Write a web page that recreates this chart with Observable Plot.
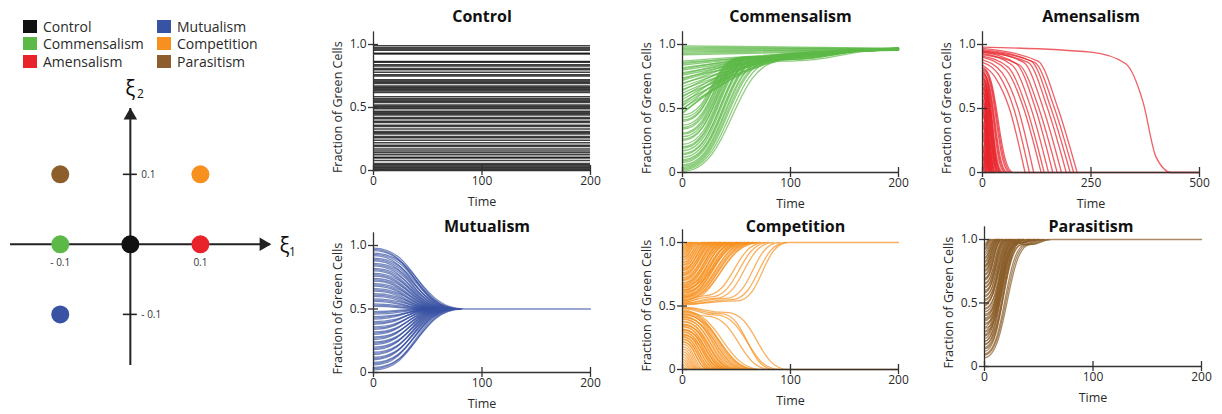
<!DOCTYPE html>
<html>
<head>
<meta charset="utf-8">
<script src="https://cdn.jsdelivr.net/npm/d3@7"></script>
<script src="https://cdn.jsdelivr.net/npm/@observablehq/plot@0.6"></script>
<style>
  body { margin: 0; background: #fff; }
  #fig { position: relative; width: 1222px; height: 414px; overflow: hidden; font-family: "Open Sans", sans-serif; }
  #fig svg { position: absolute; overflow: visible; }
  .key { position: absolute; display: flex; align-items: center; font-size: 14px; color: #2a2a2a; white-space: nowrap; }
  .key span.sw { display: inline-block; width: 14px; height: 13px; margin-right: 6px; }
</style>
</head>
<body>
<div id="fig"></div>
<script>
// ---- Interaction types, colours and their (ξ1, ξ2) coordinates ----
const interactions = ["Control", "Commensalism", "Amensalism", "Mutualism", "Competition", "Parasitism"];
const interactionColors = ["#111111", "#5cb947", "#e8232a", "#3953a4", "#f7901e", "#8b5e2b"];
const xi1 = [0, -0.1, 0.1, -0.1, 0.1, -0.1];
const xi2 = [0, 0, 0, -0.1, 0.1, 0.1];
const xiTicks = [-0.1, 0.1];
const xi1Extent = [-0.171, 0.2];
const xi2Extent = [-0.173, 0.194];

// ---- Shared axis ticks ----
const yTicks = [0, 0.5, 1];
const timeTicks = [0, 100, 200];
const longTimeTicks = [0, 250, 500];

// ---- Control: fractions stay where they start ----
const controlLevels = [0.99, 0.975, 0.965, 0.955, 0.93, 0.925, 0.865, 0.86, 0.84, 0.83, 0.81, 0.8, 0.78, 0.76, 0.75,
  0.72, 0.71, 0.7, 0.69, 0.67, 0.66, 0.65, 0.64, 0.63, 0.62, 0.585, 0.57, 0.56, 0.55, 0.54, 0.52, 0.51, 0.5, 0.49,
  0.47, 0.46, 0.45, 0.44, 0.42, 0.41, 0.39, 0.38, 0.36, 0.35, 0.33, 0.31, 0.3, 0.29, 0.27, 0.26, 0.24, 0.22, 0.2,
  0.19, 0.17, 0.155, 0.14, 0.125, 0.105, 0.1, 0.08, 0.055, 0.045, 0.035, 0.025, 0.015, 0.005];

// Each run is a list of [time, fraction] key points.
// ---- Commensalism ----
const commensalRise = [
  [[0, 0.01], [92, 0.87], [200, 0.96]], [[0, 0.02], [88, 0.88], [200, 0.965]], [[0, 0.03], [84, 0.88], [200, 0.97]],
  [[0, 0.04], [82, 0.88], [200, 0.965]], [[0, 0.05], [80, 0.89], [200, 0.96]], [[0, 0.06], [78, 0.88], [200, 0.965]],
  [[0, 0.08], [76, 0.89], [200, 0.97]], [[0, 0.09], [75, 0.89], [200, 0.96]], [[0, 0.1], [74, 0.89], [200, 0.96]],
  [[0, 0.12], [72, 0.9], [200, 0.965]], [[0, 0.14], [70, 0.89], [200, 0.97]], [[0, 0.15], [71, 0.9], [200, 0.965]],
  [[0, 0.17], [68, 0.9], [200, 0.96]], [[0, 0.19], [67, 0.9], [200, 0.965]], [[0, 0.2], [66, 0.9], [200, 0.97]],
  [[0, 0.22], [65, 0.9], [200, 0.97]], [[0, 0.25], [63, 0.9], [200, 0.965]], [[0, 0.26], [64, 0.9], [200, 0.96]],
  [[0, 0.28], [62, 0.9], [200, 0.96]], [[0, 0.3], [62, 0.9], [200, 0.965]], [[0, 0.31], [60, 0.9], [200, 0.97]],
  [[0, 0.34], [60, 0.9], [200, 0.965]], [[0, 0.35], [58, 0.9], [200, 0.97]], [[0, 0.37], [58, 0.9], [200, 0.96]],
  [[0, 0.4], [56, 0.9], [200, 0.97]], [[0, 0.41], [56, 0.9], [200, 0.965]], [[0, 0.43], [55, 0.9], [200, 0.965]],
  [[0, 0.45], [54, 0.9], [200, 0.96]]
];
const commensalBend = [
  [[0, 0.46], [80, 0.88], [200, 0.965]], [[0, 0.47], [95, 0.9], [200, 0.96]], [[0, 0.49], [75, 0.88], [200, 0.96]],
  [[0, 0.5], [100, 0.9], [200, 0.97]], [[0, 0.52], [85, 0.89], [200, 0.97]], [[0, 0.53], [70, 0.88], [200, 0.965]],
  [[0, 0.55], [105, 0.91], [200, 0.965]], [[0, 0.57], [90, 0.9], [200, 0.96]], [[0, 0.59], [78, 0.89], [200, 0.97]],
  [[0, 0.6], [110, 0.91], [200, 0.97]], [[0, 0.62], [95, 0.9], [200, 0.965]], [[0, 0.64], [82, 0.9], [200, 0.96]],
  [[0, 0.65], [115, 0.92], [200, 0.96]], [[0, 0.67], [100, 0.91], [200, 0.97]], [[0, 0.69], [88, 0.91], [200, 0.965]],
  [[0, 0.7], [120, 0.92], [200, 0.965]], [[0, 0.72], [105, 0.92], [200, 0.96]], [[0, 0.73], [92, 0.92], [200, 0.97]],
  [[0, 0.74], [125, 0.93], [200, 0.97]], [[0, 0.76], [110, 0.92], [200, 0.965]], [[0, 0.77], [96, 0.92], [200, 0.96]],
  [[0, 0.78], [130, 0.93], [200, 0.96]], [[0, 0.8], [115, 0.93], [200, 0.97]], [[0, 0.81], [100, 0.93], [200, 0.965]],
  [[0, 0.82], [135, 0.94], [200, 0.965]], [[0, 0.84], [120, 0.93], [200, 0.96]], [[0, 0.85], [105, 0.93], [200, 0.97]],
  [[0, 0.86], [140, 0.94], [200, 0.97]], [[0, 0.87], [125, 0.94], [200, 0.965]],
  [[0, 0.99], [200, 0.97]], [[0, 0.98], [200, 0.965]], [[0, 0.97], [200, 0.97]], [[0, 0.96], [200, 0.965]],
  [[0, 0.95], [200, 0.96]], [[0, 0.94], [200, 0.965]], [[0, 0.93], [200, 0.96]], [[0, 0.92], [200, 0.955]]
];

// ---- Amensalism ----
const amensalFast = [
  [[0, 0.05], [5, 0]], [[0, 0.08], [6, 0]], [[0, 0.12], [8, 0]], [[0, 0.14], [9, 0]], [[0, 0.18], [10, 0]],
  [[0, 0.2], [11, 0]], [[0, 0.22], [12, 0]], [[0, 0.27], [13, 0]], [[0, 0.3], [14, 0]], [[0, 0.32], [15, 0]],
  [[0, 0.36], [16, 0]], [[0, 0.38], [17, 0]], [[0, 0.4], [18, 0]], [[0, 0.44], [20, 0]], [[0, 0.46], [21, 0]],
  [[0, 0.48], [22, 0]], [[0, 0.52], [24, 0]], [[0, 0.54], [25, 0]], [[0, 0.56], [26, 0]], [[0, 0.6], [28, 0]],
  [[0, 0.62], [29, 0]], [[0, 0.63], [31, 0]], [[0, 0.66], [34, 0]], [[0, 0.67], [36, 0]], [[0, 0.69], [38, 0]],
  [[0, 0.71], [40, 0]], [[0, 0.72], [42, 0]], [[0, 0.73], [44, 0]], [[0, 0.74], [47, 0]], [[0, 0.76], [52, 0]],
  [[0, 0.77], [55, 0]], [[0, 0.78], [58, 0]], [[0, 0.8], [64, 0]], [[0, 0.81], [68, 0]], [[0, 0.82], [72, 0]],
  [[0, 0.7], [30, 0]], [[0, 0.75], [36, 0]], [[0, 0.79], [44, 0]], [[0, 0.65], [24, 0]], [[0, 0.58], [20, 0]],
  [[0, 0.5], [17, 0]]
];
const amensalSlow = [
  [[0, 0.84], [30, 0.74], [62, 0.5], [98, 0]], [[0, 0.86], [38, 0.76], [72, 0.5], [108, 0]],
  [[0, 0.88], [45, 0.78], [82, 0.5], [118, 0]], [[0, 0.9], [55, 0.8], [95, 0.5], [135, 0]],
  [[0, 0.91], [60, 0.82], [102, 0.5], [142, 0]], [[0, 0.93], [68, 0.84], [112, 0.5], [152, 0]],
  [[0, 0.94], [78, 0.85], [122, 0.5], [162, 0]], [[0, 0.92], [85, 0.84], [130, 0.5], [172, 0]],
  [[0, 0.95], [95, 0.86], [140, 0.5], [182, 0]], [[0, 0.94], [105, 0.86], [150, 0.5], [193, 0]],
  [[0, 0.96], [112, 0.87], [158, 0.5], [202, 0]], [[0, 0.95], [120, 0.86], [166, 0.5], [210, 0]],
  [[0, 0.97], [128, 0.87], [174, 0.5], [218, 0]],
  [[0, 0.98], [250, 0.94], [330, 0.85], [370, 0.55], [400, 0.12], [435, 0]]
];

// ---- Mutualism: every run settles at one half ----
const mutualRuns = [
  [[0, 0.98], [80, 0.5]], [[0, 0.97], [76, 0.5]], [[0, 0.96], [78, 0.5]], [[0, 0.94], [84, 0.5]],
  [[0, 0.93], [80, 0.5]], [[0, 0.92], [74, 0.5]], [[0, 0.9], [80, 0.5]], [[0, 0.89], [76, 0.5]],
  [[0, 0.88], [72, 0.5]], [[0, 0.86], [78, 0.5]], [[0, 0.85], [74, 0.5]], [[0, 0.84], [70, 0.5]],
  [[0, 0.82], [74, 0.5]], [[0, 0.81], [70, 0.5]], [[0, 0.8], [68, 0.5]], [[0, 0.78], [72, 0.5]],
  [[0, 0.77], [68, 0.5]], [[0, 0.76], [66, 0.5]], [[0, 0.74], [70, 0.5]], [[0, 0.73], [66, 0.5]],
  [[0, 0.72], [64, 0.5]], [[0, 0.7], [68, 0.5]], [[0, 0.69], [64, 0.5]], [[0, 0.68], [62, 0.5]],
  [[0, 0.66], [66, 0.5]], [[0, 0.65], [62, 0.5]], [[0, 0.64], [60, 0.5]], [[0, 0.62], [64, 0.5]],
  [[0, 0.61], [60, 0.5]], [[0, 0.6], [58, 0.5]], [[0, 0.58], [62, 0.5]], [[0, 0.57], [56, 0.5]],
  [[0, 0.56], [55, 0.5]], [[0, 0.54], [58, 0.5]], [[0, 0.53], [52, 0.5]], [[0, 0.52], [50, 0.5]],
  [[0, 0.48], [50, 0.5]], [[0, 0.47], [52, 0.5]], [[0, 0.46], [56, 0.5]], [[0, 0.44], [60, 0.5]],
  [[0, 0.43], [58, 0.5]], [[0, 0.42], [56, 0.5]], [[0, 0.4], [62, 0.5]], [[0, 0.39], [60, 0.5]],
  [[0, 0.38], [58, 0.5]], [[0, 0.36], [64, 0.5]], [[0, 0.35], [62, 0.5]], [[0, 0.34], [60, 0.5]],
  [[0, 0.32], [66, 0.5]], [[0, 0.31], [64, 0.5]], [[0, 0.3], [62, 0.5]], [[0, 0.28], [68, 0.5]],
  [[0, 0.27], [66, 0.5]], [[0, 0.26], [64, 0.5]], [[0, 0.24], [70, 0.5]], [[0, 0.23], [68, 0.5]],
  [[0, 0.22], [66, 0.5]], [[0, 0.2], [72, 0.5]], [[0, 0.19], [70, 0.5]], [[0, 0.18], [68, 0.5]],
  [[0, 0.16], [74, 0.5]], [[0, 0.15], [72, 0.5]], [[0, 0.14], [70, 0.5]], [[0, 0.12], [76, 0.5]],
  [[0, 0.11], [74, 0.5]], [[0, 0.1], [72, 0.5]], [[0, 0.08], [78, 0.5]], [[0, 0.07], [76, 0.5]],
  [[0, 0.06], [75, 0.5]], [[0, 0.04], [82, 0.5]], [[0, 0.03], [78, 0.5]], [[0, 0.02], [80, 0.5]]
];

// ---- Competition: runs above one half fix at 1, below at 0 ----
const competitionRuns = [
  [[0, 0.51], [45, 0.55], [96, 1]], [[0, 0.515], [50, 0.54], [98, 1]], [[0, 0.52], [40, 0.56], [90, 1]],
  [[0, 0.52], [30, 0.56], [84, 1]], [[0, 0.53], [25, 0.57], [80, 1]], [[0, 0.53], [70, 1]],
  [[0, 0.54], [20, 0.58], [76, 1]], [[0, 0.545], [66, 1]], [[0, 0.55], [72, 1]], [[0, 0.56], [68, 1]],
  [[0, 0.565], [62, 1]], [[0, 0.57], [65, 1]], [[0, 0.57], [55, 1]], [[0, 0.58], [62, 1]], [[0, 0.585], [58, 1]],
  [[0, 0.59], [50, 1]], [[0, 0.6], [58, 1]], [[0, 0.605], [54, 1]], [[0, 0.61], [55, 1]], [[0, 0.62], [45, 1]],
  [[0, 0.625], [50, 1]], [[0, 0.63], [52, 1]], [[0, 0.64], [60, 1]], [[0, 0.645], [46, 1]], [[0, 0.65], [50, 1]],
  [[0, 0.66], [47, 1]], [[0, 0.665], [43, 1]], [[0, 0.67], [40, 1]], [[0, 0.68], [44, 1]], [[0, 0.685], [40, 1]],
  [[0, 0.7], [42, 1]], [[0, 0.705], [37, 1]], [[0, 0.71], [35, 1]], [[0, 0.72], [39, 1]], [[0, 0.725], [34, 1]],
  [[0, 0.74], [36, 1]], [[0, 0.745], [31, 1]], [[0, 0.75], [30, 1]], [[0, 0.76], [33, 1]], [[0, 0.765], [28, 1]],
  [[0, 0.78], [30, 1]], [[0, 0.785], [25, 1]], [[0, 0.79], [26, 1]], [[0, 0.8], [27, 1]], [[0, 0.805], [22, 1]],
  [[0, 0.82], [24, 1]], [[0, 0.825], [20, 1]], [[0, 0.84], [21, 1]], [[0, 0.845], [18, 1]], [[0, 0.86], [18, 1]],
  [[0, 0.865], [15, 1]], [[0, 0.88], [15, 1]], [[0, 0.885], [13, 1]], [[0, 0.9], [12, 1]], [[0, 0.905], [11, 1]],
  [[0, 0.92], [10, 1]], [[0, 0.925], [9, 1]], [[0, 0.94], [8, 1]], [[0, 0.945], [7, 1]], [[0, 0.96], [6, 1]],
  [[0, 0.965], [5, 1]], [[0, 0.98], [4, 1]],
  [[0, 0.49], [40, 0.45], [98, 0]], [[0, 0.485], [35, 0.44], [85, 0]], [[0, 0.48], [30, 0.43], [90, 0]],
  [[0, 0.47], [22, 0.42], [82, 0]], [[0, 0.46], [74, 0]], [[0, 0.455], [68, 0]], [[0, 0.45], [66, 0]],
  [[0, 0.44], [60, 0]], [[0, 0.435], [64, 0]], [[0, 0.43], [70, 0]], [[0, 0.42], [56, 0]], [[0, 0.415], [58, 0]],
  [[0, 0.41], [62, 0]], [[0, 0.4], [52, 0]], [[0, 0.395], [54, 0]], [[0, 0.38], [48, 0]], [[0, 0.375], [50, 0]],
  [[0, 0.36], [45, 0]], [[0, 0.355], [46, 0]], [[0, 0.35], [50, 0]], [[0, 0.34], [42, 0]], [[0, 0.335], [43, 0]],
  [[0, 0.32], [39, 0]], [[0, 0.315], [40, 0]], [[0, 0.31], [44, 0]], [[0, 0.3], [36, 0]], [[0, 0.295], [37, 0]],
  [[0, 0.28], [33, 0]], [[0, 0.275], [34, 0]], [[0, 0.27], [40, 0]], [[0, 0.26], [30, 0]], [[0, 0.255], [31, 0]],
  [[0, 0.24], [28, 0]], [[0, 0.235], [28, 0]], [[0, 0.22], [25, 0]], [[0, 0.215], [25, 0]], [[0, 0.2], [22, 0]],
  [[0, 0.18], [20, 0]], [[0, 0.16], [18, 0]], [[0, 0.14], [16, 0]], [[0, 0.12], [14, 0]], [[0, 0.1], [12, 0]],
  [[0, 0.08], [10, 0]], [[0, 0.06], [8, 0]], [[0, 0.04], [6, 0]], [[0, 0.02], [4, 0]]
];

// ---- Parasitism: every run ends all green ----
const parasiteRuns = [
  [[0, 0.07], [42, 0.96], [62, 1]], [[0, 0.09], [40, 0.96], [60, 1]], [[0, 0.1], [38, 0.96], [58, 1]],
  [[0, 0.12], [34, 0.96], [55, 1]], [[0, 0.14], [35, 0.96], [54, 1]], [[0, 0.15], [33, 0.97], [52, 1]],
  [[0, 0.17], [31, 0.97], [50, 1]], [[0, 0.2], [30, 0.97], [48, 1]], [[0, 0.2], [31, 0.97], [50, 1]],
  [[0, 0.22], [28, 0.97], [46, 1]], [[0, 0.24], [29, 0.97], [46, 1]], [[0, 0.25], [27, 0.98], [44, 1]],
  [[0, 0.28], [26, 0.98], [42, 1]], [[0, 0.31], [25, 0.98], [40, 1]], [[0, 0.18], [36, 1]], [[0, 0.27], [32, 1]],
  [[0, 0.3], [36, 1]], [[0, 0.33], [35, 1]], [[0, 0.34], [34, 1]], [[0, 0.36], [32, 1]], [[0, 0.37], [33, 1]],
  [[0, 0.38], [28, 1]], [[0, 0.4], [32, 1]], [[0, 0.41], [31, 1]], [[0, 0.43], [30, 1]], [[0, 0.45], [28, 1]],
  [[0, 0.46], [29, 1]], [[0, 0.48], [24, 1]], [[0, 0.49], [26, 1]], [[0, 0.5], [27, 1]], [[0, 0.52], [25, 1]],
  [[0, 0.53], [26, 1]], [[0, 0.55], [23, 1]], [[0, 0.56], [24, 1]], [[0, 0.58], [20, 1]], [[0, 0.59], [22, 1]],
  [[0, 0.6], [22, 1]], [[0, 0.62], [20, 1]], [[0, 0.63], [21, 1]], [[0, 0.65], [19, 1]], [[0, 0.66], [19, 1]],
  [[0, 0.68], [16, 1]], [[0, 0.69], [17, 1]], [[0, 0.7], [17, 1]], [[0, 0.72], [16, 1]], [[0, 0.73], [15, 1]],
  [[0, 0.75], [14, 1]], [[0, 0.76], [14, 1]], [[0, 0.78], [12, 1]], [[0, 0.79], [13, 1]], [[0, 0.8], [12, 1]],
  [[0, 0.82], [11, 1]], [[0, 0.83], [10, 1]], [[0, 0.85], [10, 1]], [[0, 0.86], [9, 1]], [[0, 0.88], [8, 1]],
  [[0, 0.9], [7, 1]], [[0, 0.92], [6, 1]], [[0, 0.93], [5, 1]], [[0, 0.95], [5, 1]], [[0, 0.96], [4, 1]]
];

// ---- Helpers ----
const axisColor = "#333";
const textColor = "#2a2a2a";
const fracFormat = d => d === 0 ? "0" : d.toFixed(1);

// Flatten runs into rows. Runs stop once settled; the last run to settle on each
// final value is followed on to the end of the time axis.
function curveRows(runs, xMax) {
  const slowest = new Map();
  runs.forEach((run, id) => {
    const [t, y] = run[run.length - 1];
    if (t >= xMax) return;
    const prev = slowest.get(y);
    if (prev === undefined || t > runs[prev][runs[prev].length - 1][0]) slowest.set(y, id);
  });
  const followed = new Set(slowest.values());
  return runs.flatMap((run, id) => {
    const pts = run.map(([t, y]) => ({id, t, y}));
    if (followed.has(id)) pts.push({id, t: xMax, y: run[run.length - 1][1]});
    return pts;
  });
}

const fig = document.getElementById("fig");

function drawPanel(p) {
  const [mt, mr, mb, ml] = p.margin;
  const marks = [];
  for (const layer of p.layers) {
    if (layer.levels) {
      marks.push(Plot.ruleY(layer.levels, {stroke: layer.color, strokeOpacity: layer.opacity, strokeWidth: 1.5}));
    } else {
      marks.push(Plot.line(curveRows(layer.runs, p.xMax), {
        x: "t", y: "y", z: "id", curve: layer.curve,
        stroke: layer.color, strokeOpacity: layer.opacity, strokeWidth: 1.3
      }));
    }
  }
  marks.push(
    Plot.ruleY([0], {stroke: axisColor, strokeWidth: 1.3}),
    Plot.ruleX([0], {stroke: axisColor, strokeWidth: 1.3}),
    Plot.ruleX(p.xTicks, {y1: 0, y2: 0, insetTop: -5, insetBottom: -5, stroke: axisColor, strokeWidth: 1.3}),
    Plot.ruleY(yTicks, {x1: 0, x2: 0, insetLeft: -5, insetRight: -5, stroke: axisColor, strokeWidth: 1.3}),
    Plot.axisX(p.xTicks, {tickSize: 0, tickPadding: 6, fontSize: 12, color: textColor, label: null}),
    Plot.axisY(yTicks, {tickSize: 0, tickPadding: 7, fontSize: 12, tickFormat: fracFormat, color: textColor, label: null}),
    Plot.text([p.title], {frameAnchor: "top", lineAnchor: "middle", dy: p.titleY - mt, dx: p.titleDx, fontSize: 16, fontWeight: "bold", fill: "#111"}),
    Plot.text(["Fraction of Green Cells"], {frameAnchor: "left", textAnchor: "middle", lineAnchor: "middle", rotate: -90, dx: -36, dy: 6, fontSize: 12.5, fill: textColor}),
    Plot.text(["Time"], {frameAnchor: "bottom", lineAnchor: "middle", dy: 31, fontSize: 12.5, fill: textColor})
  );
  const svg = Plot.plot({
    width: p.width, height: p.height,
    marginTop: mt, marginRight: mr, marginBottom: mb, marginLeft: ml,
    x: {domain: [0, p.xMax]},
    y: {domain: [0, 1.1]},
    style: {fontFamily: "'Open Sans', sans-serif", background: "transparent"},
    marks
  });
  svg.style.left = p.left + "px";
  svg.style.top = p.top + "px";
  fig.appendChild(svg);
}

const panels = [
  {title: "Control", left: 310, top: 0, width: 300, height: 205, margin: [31.4, 20, 35, 63], xMax: 200, xTicks: timeTicks, titleY: 16, titleDx: 0,
   layers: [{levels: controlLevels, color: "#000", opacity: 0.75}]},
  {title: "Commensalism", left: 615, top: 0, width: 300, height: 205, margin: [31.2, 17, 33, 67], xMax: 200, xTicks: timeTicks, titleY: 16, titleDx: 0,
   layers: [
     {runs: commensalRise, curve: "bump-x", color: interactionColors[1], opacity: 0.7},
     {runs: commensalBend, curve: "monotone-x", color: interactionColors[1], opacity: 0.7}
   ]},
  {title: "Amensalism", left: 920, top: 0, width: 302, height: 205, margin: [31.2, 23, 33, 62], xMax: 500, xTicks: longTimeTicks, titleY: 16, titleDx: 0,
   layers: [
     {runs: amensalFast, curve: "bump-x", color: interactionColors[2], opacity: 0.72},
     {runs: amensalSlow, curve: "monotone-x", color: interactionColors[2], opacity: 0.72}
   ]},
  {title: "Mutualism", left: 310, top: 205, width: 300, height: 209, margin: [27.3, 20, 42, 63], xMax: 200, xTicks: timeTicks, titleY: 21.5, titleDx: 5,
   layers: [{runs: mutualRuns, curve: "bump-x", color: interactionColors[3], opacity: 0.68}]},
  {title: "Competition", left: 615, top: 205, width: 300, height: 209, margin: [24.3, 17, 45, 67], xMax: 200, xTicks: timeTicks, titleY: 21, titleDx: 5,
   layers: [{runs: competitionRuns, curve: "bump-x", color: interactionColors[4], opacity: 0.7}]},
  {title: "Parasitism", left: 920, top: 205, width: 302, height: 209, margin: [21.3, 21, 48, 64], xMax: 200, xTicks: timeTicks, titleY: 21, titleDx: -2,
   layers: [{runs: parasiteRuns, curve: "bump-x", color: interactionColors[5], opacity: 0.72}]}
];
panels.forEach(drawPanel);

// ---- Interaction plane (ξ1, ξ2) ----
const tickLabel = d => d < 0 ? "- " + Math.abs(d) : String(d);
const diagram = Plot.plot({
  width: 310, height: 334,
  marginTop: 28, marginRight: 40, marginBottom: 49, marginLeft: 10,
  x: {domain: xi1Extent, axis: null},
  y: {domain: xi2Extent, axis: null},
  color: {type: "identity"},
  style: {fontFamily: "'Open Sans', sans-serif", background: "transparent"},
  marks: [
    Plot.ruleY([0], {stroke: "#222", strokeWidth: 2}),
    Plot.ruleX([0], {stroke: "#222", strokeWidth: 2}),
    Plot.ruleY(xiTicks, {x1: 0, x2: 0, insetLeft: -7, insetRight: -7, stroke: "#222", strokeWidth: 1.6}),
    Plot.ruleX(xiTicks, {y1: 0, y2: 0, insetTop: -7, insetBottom: -7, stroke: "#222", strokeWidth: 1.6}),
    Plot.dot([0], {x: xi1Extent[1], y: 0, symbol: "triangle", r: 5, rotate: 90, fill: "#222", dx: -7}),
    Plot.dot([0], {x: 0, y: xi2Extent[1], symbol: "triangle", r: 5, fill: "#222", dy: 7}),
    Plot.dot(interactions, {x: (d, i) => xi1[i], y: (d, i) => xi2[i], fill: (d, i) => interactionColors[i], r: 9}),
    Plot.text(xiTicks, {x: 0, y: d => d, text: tickLabel, dx: 11, textAnchor: "start", fontSize: 10, fill: "#333"}),
    Plot.text(xiTicks, {x: d => d, y: 0, text: tickLabel, dy: 18, fontSize: 10, fill: "#333"}),
    Plot.text(["ξ"], {x: 0, y: xi2Extent[1], dy: -19, fontSize: 21, fill: "#111"}),
    Plot.text(["2"], {x: 0, y: xi2Extent[1], dx: 10, dy: -14, fontSize: 12, fill: "#111"}),
    Plot.text(["ξ"], {x: xi1Extent[1], y: 0, dx: 14, dy: 2, fontSize: 21, fill: "#111"}),
    Plot.text(["1"], {x: xi1Extent[1], y: 0, dx: 22, dy: 8, fontSize: 12, fill: "#111"})
  ]
});
diagram.style.left = "0px";
diagram.style.top = "80px";
fig.appendChild(diagram);

// ---- Colour key ----
interactions.forEach((name, i) => {
  const col = i < 3 ? 0 : 1, row = i % 3;
  const item = document.createElement("div");
  item.className = "key";
  item.style.left = (23 + col * 134) + "px";
  item.style.top = (17 + row * 17.5) + "px";
  item.style.height = "18px";
  const sw = document.createElement("span");
  sw.className = "sw";
  sw.style.background = interactionColors[i];
  item.appendChild(sw);
  item.appendChild(document.createTextNode(name));
  fig.appendChild(item);
});
</script>
</body>
</html>
